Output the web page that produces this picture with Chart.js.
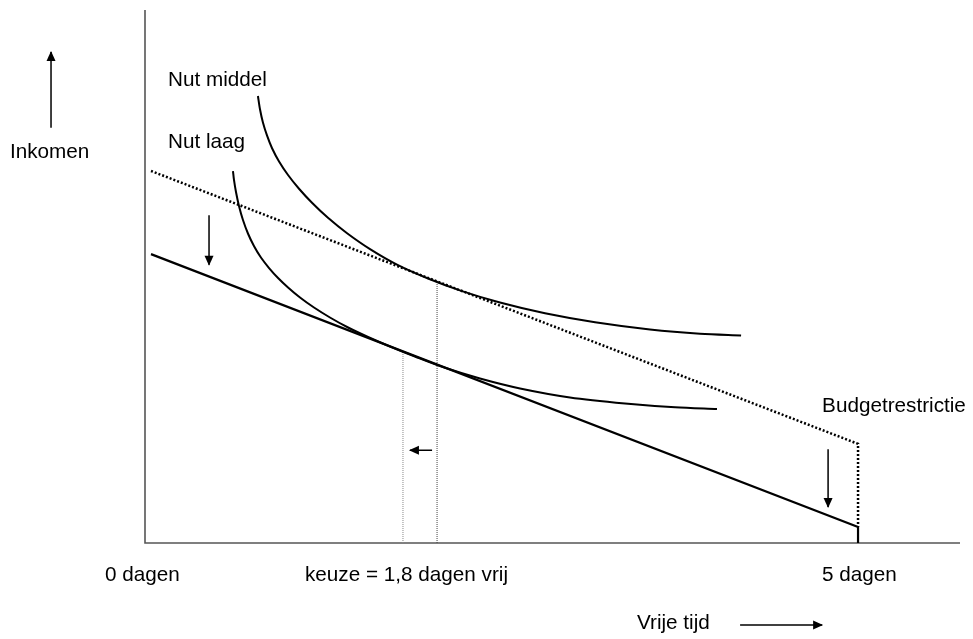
<!DOCTYPE html>
<html>
<head>
<meta charset="utf-8">
<script src="https://cdn.jsdelivr.net/npm/chart.js@4.4.1/dist/chart.umd.min.js"></script>
<style>
html,body{margin:0;padding:0;background:#fff;}
#wrap{width:973px;height:639px;}
</style>
</head>
<body>
<div id="wrap"><canvas id="c" width="973" height="639"></canvas></div>
<script>
// ---- data (x: vrije tijd in dagen, y: inkomen, relative units) ----
const nutLaagX   = [0.617, 0.624, 0.638, 0.659, 0.687, 0.722, 0.764, 0.813, 0.870, 0.933, 1.003, 1.087, 1.185, 1.297, 1.424, 1.564, 1.718, 1.893, 2.104, 2.349, 2.630, 2.980, 3.366, 3.717, 4.011];
const nutLaagY   = [69.79, 68.11, 65.85, 63.23, 60.60, 58.07, 55.72, 53.56, 51.59, 49.72, 47.94, 46.06, 44.18, 42.31, 40.43, 38.65, 36.87, 34.99, 32.87, 30.86, 28.99, 27.30, 26.17, 25.46, 25.14];
const nutMiddelX = [0.792, 0.806, 0.827, 0.856, 0.891, 0.940, 1.003, 1.080, 1.171, 1.283, 1.417, 1.578, 1.767, 1.985, 2.223, 2.489, 2.805, 3.156, 3.541, 3.892, 4.180];
const nutMiddelY = [83.86, 81.43, 78.89, 76.42, 74.07, 71.58, 69.04, 66.46, 63.83, 61.01, 58.12, 55.14, 52.23, 49.62, 47.26, 45.12, 43.10, 41.41, 40.06, 39.26, 38.95];
const budgetOudX = [0.042, 5.0, 5.0];
const budgetOudY = [69.8, 18.6, 3.0];
const budgetNieuwX = [0.042, 5.0, 5.0];
const budgetNieuwY = [54.2, 3.0, 0];
const keuzeNieuwX = [1.809, 1.809];
const keuzeNieuwY = [0, 35.8];
const keuzeOudX = [2.048, 2.048];
const keuzeOudY = [0, 49.2];
// arrows
const pijlLinksBovenX = [0.449, 0.449];  const pijlLinksBovenY = [61.5, 52.2];
const pijlRechtsX = [4.79, 4.79];        const pijlRechtsY = [17.6, 6.75];
const pijlKeuzeX = [2.013, 1.858];       const pijlKeuzeY = [17.4, 17.4];
const pijlInkomenX = [-0.659, -0.659];   const pijlInkomenY = [77.9, 92.1];
const pijlVrijeTijdX = [4.173, 4.748];   const pijlVrijeTijdY = [-15.4, -15.4];
// text labels
const labelTexts = ["Nut middel", "Nut laag", "Inkomen", "Budgetrestrictie", "0 dagen", "keuze = 1,8 dagen vrij", "5 dagen", "Vrije tijd"];
const labelX = [0.161, 0.161, -0.947, 4.748, -0.281, 1.122, 4.748, 3.450];
const labelY = [85.8, 74.2, 72.3, 24.6, -7.2, -7.2, -7.2, -16.2];

const zip = (xs, ys) => xs.map((x, i) => ({x: x, y: ys[i]}));

function lineDs(xs, ys, opts) {
  return Object.assign({
    data: zip(xs, ys),
    borderColor: '#000',
    borderWidth: 2,
    pointRadius: 0,
    fill: false,
    tension: 0,
    clip: false
  }, opts || {});
}

const datasets = [
  lineDs(budgetOudX, budgetOudY, {borderWidth: 2.5, borderDash: [2, 2]}),
  lineDs(budgetNieuwX, budgetNieuwY, {borderWidth: 2.2}),
  lineDs(nutLaagX, nutLaagY, {tension: 0.3}),
  lineDs(nutMiddelX, nutMiddelY, {tension: 0.3}),
  lineDs(keuzeNieuwX, keuzeNieuwY, {borderWidth: 1, borderColor: '#888', borderDash: [1, 1]}),
  lineDs(keuzeOudX, keuzeOudY, {borderWidth: 1, borderColor: '#444', borderDash: [1, 1]}),
  lineDs(pijlLinksBovenX, pijlLinksBovenY, {borderWidth: 1.5, arrowHead: true}),
  lineDs(pijlRechtsX, pijlRechtsY, {borderWidth: 1.5, arrowHead: true}),
  lineDs(pijlKeuzeX, pijlKeuzeY, {borderWidth: 1.5, arrowHead: true}),
  lineDs(pijlInkomenX, pijlInkomenY, {borderWidth: 1.5, arrowHead: true}),
  lineDs(pijlVrijeTijdX, pijlVrijeTijdY, {borderWidth: 1.5, arrowHead: true})
];

const axesPlugin = {
  id: 'axesPlugin',
  beforeDatasetsDraw(chart) {
    const ctx = chart.ctx, a = chart.chartArea;
    const xs = chart.scales.x, ys = chart.scales.y;
    const x0 = Math.round(xs.getPixelForValue(0)), y0 = ys.getPixelForValue(0);
    ctx.save();
    ctx.strokeStyle = '#555';
    ctx.lineWidth = 1.6;
    ctx.beginPath();
    ctx.moveTo(x0, a.top);
    ctx.lineTo(x0, y0);
    ctx.lineTo(a.right, y0);
    ctx.stroke();
    ctx.restore();
  }
};

const arrowPlugin = {
  id: 'arrowPlugin',
  afterDatasetsDraw(chart) {
    const ctx = chart.ctx;
    chart.data.datasets.forEach((ds, i) => {
      if (!ds.arrowHead) return;
      const pts = chart.getDatasetMeta(i).data;
      const p1 = pts[pts.length - 2], p2 = pts[pts.length - 1];
      const ang = Math.atan2(p2.y - p1.y, p2.x - p1.x);
      const len = 9, half = 4.5;
      ctx.save();
      ctx.fillStyle = '#000';
      ctx.translate(p2.x, p2.y);
      ctx.rotate(ang);
      ctx.beginPath();
      ctx.moveTo(1, 0);
      ctx.lineTo(-len, -half);
      ctx.lineTo(-len, half);
      ctx.closePath();
      ctx.fill();
      ctx.restore();
    });
  }
};

const labelPlugin = {
  id: 'labelPlugin',
  afterDraw(chart) {
    const ctx = chart.ctx;
    const xs = chart.scales.x, ys = chart.scales.y;
    ctx.save();
    ctx.fillStyle = '#000';
    ctx.font = '20.7px "Liberation Sans", Arial, sans-serif';
    ctx.textAlign = 'left';
    ctx.textBaseline = 'alphabetic';
    labelTexts.forEach((t, i) => {
      ctx.fillText(t, xs.getPixelForValue(labelX[i]), ys.getPixelForValue(labelY[i]));
    });
    ctx.restore();
  }
};

new Chart(document.getElementById('c'), {
  type: 'line',
  data: {datasets: datasets},
  options: {
    responsive: false,
    animation: false,
    events: [],
    layout: {padding: {left: 145, right: 13, top: 10, bottom: 96}},
    plugins: {legend: {display: false}, tooltip: {enabled: false}},
    scales: {
      x: {type: 'linear', min: 0, max: 5.715, display: false},
      y: {type: 'linear', min: 0, max: 100, display: false}
    }
  },
  plugins: [axesPlugin, arrowPlugin, labelPlugin]
});
</script>
</body>
</html>
